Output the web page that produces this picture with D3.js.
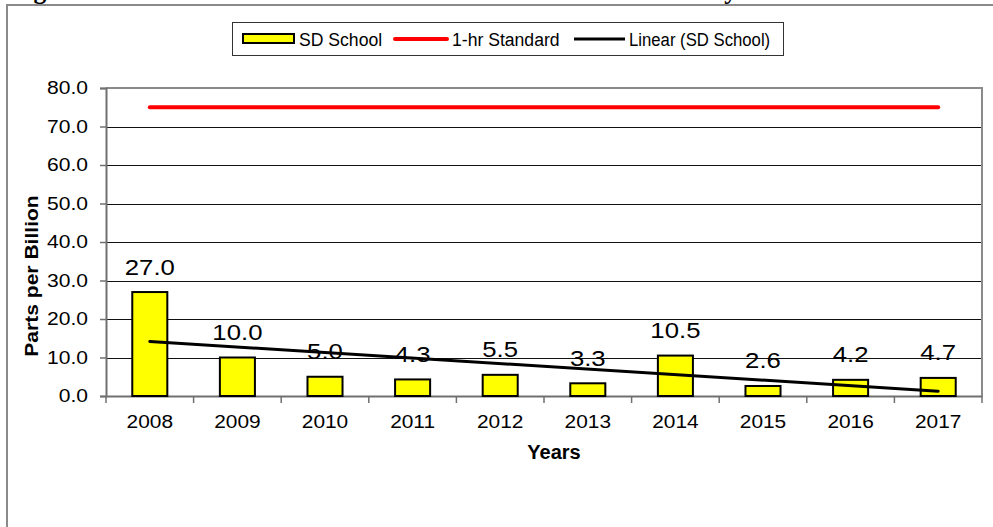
<!DOCTYPE html>
<html>
<head>
<meta charset="utf-8">
<script src="https://cdn.jsdelivr.net/npm/d3@7"></script>
<style>
  html, body { margin: 0; padding: 0; background: #fff; overflow: hidden; }
  svg { display: block; }
</style>
</head>
<body>
<svg id="chart" width="993" height="527"></svg>
<script>
// ---- data ----
const years = ["2008", "2009", "2010", "2011", "2012", "2013", "2014", "2015", "2016", "2017"];
const sdSchool = [27.0, 10.0, 5.0, 4.3, 5.5, 3.3, 10.5, 2.6, 4.2, 4.7];
const standard1hr = [75, 75, 75, 75, 75, 75, 75, 75, 75, 75];
const yTicks = [0, 10, 20, 30, 40, 50, 60, 70, 80];
const legendLabels = ["SD School", "1-hr Standard", "Linear (SD School)"];
const titleText = "Figure 14: SO2 Maximum 1-Hour Concentrations at SD School by Year";
const yAxisTitle = "Parts per Billion";
const xAxisTitle = "Years";

// ---- layout ----
const svg = d3.select("#chart");
const plot = { left: 106, right: 982, top: 88, bottom: 396 };
const SANS = "'Liberation Sans', Arial, sans-serif";

const x = d3.scaleBand().domain(years).range([plot.left, plot.right]).padding(0);
const y = d3.scaleLinear().domain([0, 80]).range([plot.bottom, plot.top]);
const cx = d => x(d) + x.bandwidth() / 2;
const barW = x.bandwidth() / 2.5; // 150% gap between columns

// text with a slight horizontal stretch, as in the original export
function label(g, tx, ty, str, opts) {
  const o = Object.assign({ size: 18, weight: "normal", anchor: "middle", sx: 1, rot: 0, family: SANS }, opts);
  return g.append("text")
    .attr("transform", `translate(${tx},${ty}) rotate(${o.rot}) scale(${o.sx},1)`)
    .attr("text-anchor", o.anchor)
    .style("font-family", o.family)
    .style("font-size", o.size + "px")
    .style("font-weight", o.weight)
    .attr("fill", "#000")
    .text(str);
}

// ---- outer frame and clipped heading ----
svg.append("rect")
  .attr("x", 7).attr("y", 5).attr("width", 1400).attr("height", 900)
  .attr("fill", "none").attr("stroke", "#8a8a8a").attr("stroke-width", 2);

const title = svg.append("text")
  .attr("y", -1)
  .style("font-family", "'Liberation Serif', 'Times New Roman', serif")
  .style("font-weight", "bold")
  .style("font-size", "20px")
  .attr("fill", "#000")
  .text(titleText);
{
  const node = title.node();
  const gi = titleText.indexOf("g");
  const yi = titleText.indexOf("by") + 1;
  const gMid = node.getSubStringLength(0, gi) + node.getSubStringLength(gi, 1) / 2;
  const yMid = node.getSubStringLength(0, yi) + node.getSubStringLength(yi, 1) / 2;
  const fs = 20 * (731 - 40) / (yMid - gMid);
  title.style("font-size", fs + "px").attr("x", 40 - gMid * fs / 20);
}

// ---- gridlines ----
const grid = svg.append("g");
grid.selectAll("line")
  .data(yTicks.filter(t => t > 0 && t < 80))
  .join("line")
  .attr("x1", plot.left).attr("x2", plot.right)
  .attr("y1", d => Math.round(y(d)) + 0.5).attr("y2", d => Math.round(y(d)) + 0.5)
  .attr("stroke", "#111").attr("stroke-width", 1);

// plot border top and right
svg.append("path")
  .attr("d", `M${plot.left},${y(80)}H${plot.right}V${plot.bottom}`)
  .attr("fill", "none").attr("stroke", "#8a8a8a").attr("stroke-width", 2);

// ---- axes ----
const yAxis = d3.axisLeft(y).tickValues(yTicks).tickSize(6).tickFormat(d3.format(".1f"));
const gy = svg.append("g").attr("transform", `translate(${plot.left},0)`).call(yAxis);
gy.select(".domain").attr("stroke", "#707070").attr("stroke-width", 2);
gy.selectAll(".tick line").attr("stroke", "#707070").attr("stroke-width", 1.5);
gy.selectAll(".tick text").remove();
yTicks.forEach(t => {
  label(svg, plot.left - 18, y(t) + 6.3, d3.format(".1f")(t), { size: 18, anchor: "end", sx: 1.17 });
});

const xAxis = d3.axisBottom(x).tickSize(0).tickFormat("");
const gx = svg.append("g").attr("transform", `translate(0,${plot.bottom})`).call(xAxis);
gx.select(".domain").attr("stroke", "#707070").attr("stroke-width", 2);
gx.selectAll(".tick").remove();
// category separators below the axis
const bounds = years.map(d => x(d)).concat([plot.right]);
svg.append("g").selectAll("line").data(bounds).join("line")
  .attr("x1", d => d).attr("x2", d => d)
  .attr("y1", plot.bottom).attr("y2", plot.bottom + 7)
  .attr("stroke", "#707070").attr("stroke-width", 1.5);
years.forEach(yr => {
  label(svg, cx(yr), 428, yr, { size: 18, sx: 1.16 });
});

// ---- standard line ----
const line = d3.line().x((d, i) => cx(years[i])).y(d => y(d));
svg.append("path")
  .datum(standard1hr)
  .attr("d", line)
  .attr("fill", "none").attr("stroke", "#ff0000").attr("stroke-width", 4)
  .attr("stroke-linecap", "round");

// ---- bars ----
svg.append("g").selectAll("rect")
  .data(sdSchool)
  .join("rect")
  .attr("x", (d, i) => cx(years[i]) - barW / 2)
  .attr("y", d => y(d))
  .attr("width", barW)
  .attr("height", d => y(0) - y(d))
  .attr("fill", "#ffff00").attr("stroke", "#000").attr("stroke-width", 2);

// ---- linear trend (least squares over category index) ----
const n = sdSchool.length;
const idx = d3.range(1, n + 1);
const mx = d3.mean(idx), my = d3.mean(sdSchool);
const slope = d3.sum(idx, (k, i) => (k - mx) * (sdSchool[i] - my)) / d3.sum(idx, k => (k - mx) ** 2);
const intercept = my - slope * mx;
const trend = [intercept + slope * 1, intercept + slope * n];
svg.append("line")
  .attr("x1", cx(years[0])).attr("y1", y(trend[0]))
  .attr("x2", cx(years[n - 1])).attr("y2", y(trend[1]))
  .attr("stroke", "#000").attr("stroke-width", 3).attr("stroke-linecap", "round");

// ---- value labels ----
sdSchool.forEach((v, i) => {
  label(svg, cx(years[i]), y(v) - 17.5, d3.format(".1f")(v), { size: 23, sx: 1.12 });
});

// ---- axis titles ----
label(svg, 38, 276, yAxisTitle, { size: 18, weight: "bold", rot: -90, sx: 1.17 });
label(svg, 554, 459, xAxisTitle, { size: 20, weight: "bold" });

// ---- legend ----
const lg = svg.append("g");
lg.append("rect")
  .attr("x", 232.5).attr("y", 22.5).attr("width", 551).attr("height", 33)
  .attr("fill", "#fff").attr("stroke", "#333").attr("stroke-width", 1);
lg.append("rect")
  .attr("x", 243).attr("y", 34).attr("width", 51).attr("height", 9)
  .attr("fill", "#ffff00").attr("stroke", "#000").attr("stroke-width", 2);
lg.append("line")
  .attr("x1", 395).attr("x2", 447).attr("y1", 39).attr("y2", 39)
  .attr("stroke", "#ff0000").attr("stroke-width", 4).attr("stroke-linecap", "round");
lg.append("line")
  .attr("x1", 574).attr("x2", 625).attr("y1", 39).attr("y2", 39)
  .attr("stroke", "#000").attr("stroke-width", 3);
label(lg, 299, 45.5, legendLabels[0], { size: 17.6, anchor: "start" });
label(lg, 452, 45.5, legendLabels[1], { size: 17.6, anchor: "start" });
label(lg, 629, 45.5, legendLabels[2], { size: 17.6, anchor: "start", sx: 0.95 });
</script>
</body>
</html>
